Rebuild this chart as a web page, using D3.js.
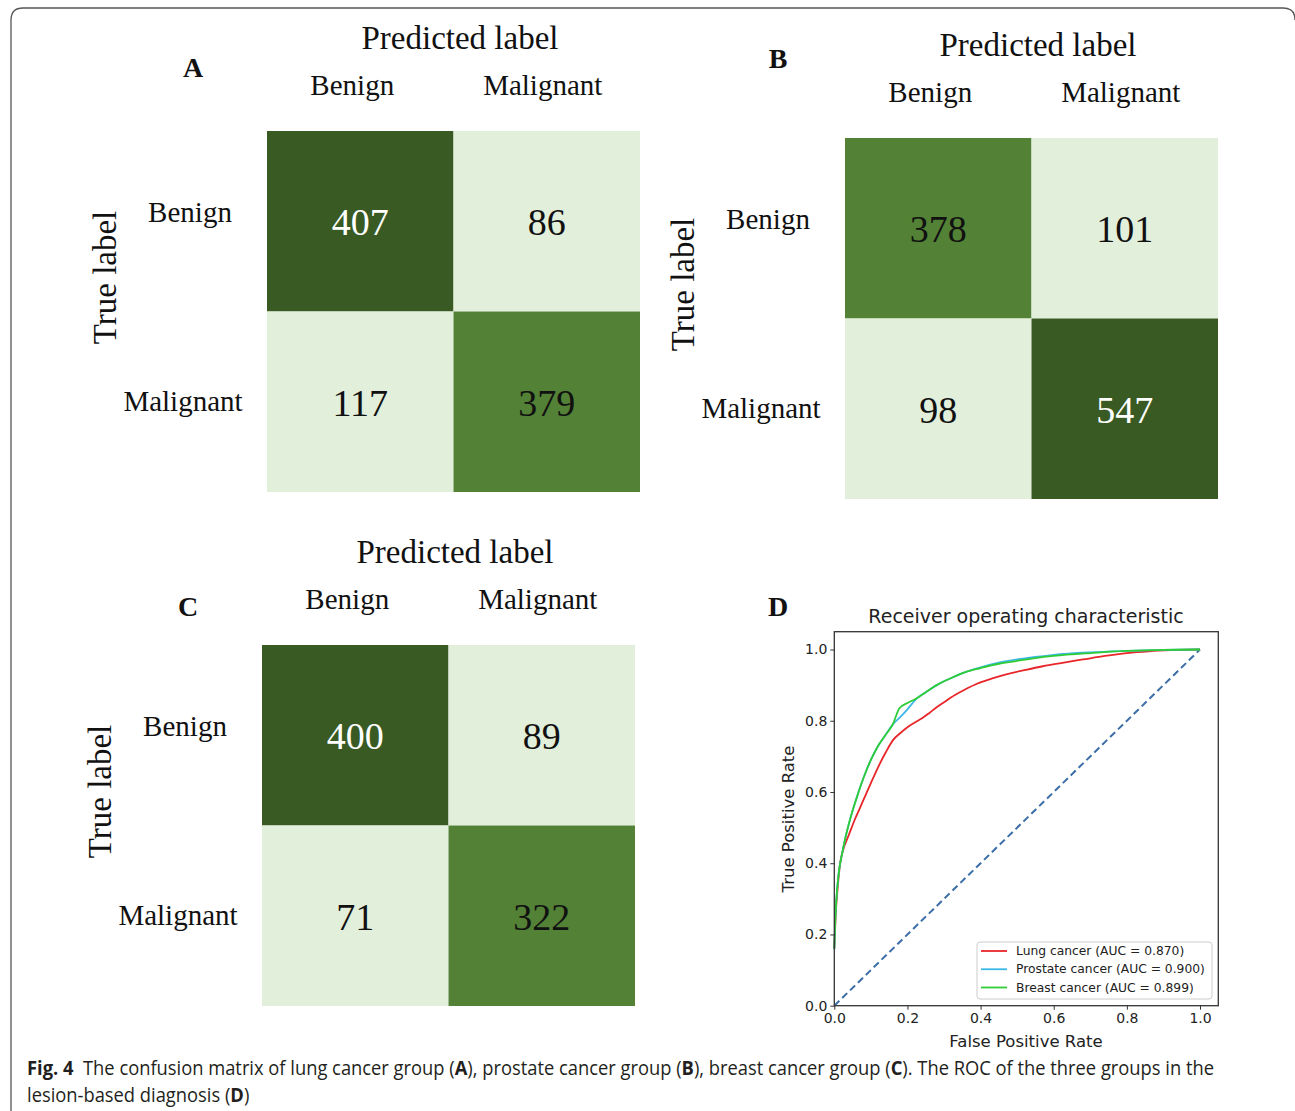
<!DOCTYPE html>
<html>
<head>
<meta charset="utf-8">
<script src="https://cdn.jsdelivr.net/npm/d3@7"></script>
<style>
  body { margin: 0; background: #fff; }
  svg { display: block; }
</style>
</head>
<body>
<svg id="fig" width="1295" height="1111"></svg>
<script>
// class labels and confusion matrices (rows = true, cols = predicted)
var classLabels = ["Benign", "Malignant"];
var lungMatrix = [[407, 86], [117, 379]];
var prostateMatrix = [[378, 101], [98, 547]];
var breastMatrix = [[400, 89], [71, 322]];

// ROC curves
var lungFpr = [0, 0.004, 0.01, 0.016, 0.025, 0.04, 0.055, 0.07, 0.085, 0.1, 0.12, 0.14, 0.16, 0.18, 0.2, 0.22, 0.24, 0.26, 0.28, 0.3, 0.33, 0.36, 0.39, 0.43, 0.47, 0.52, 0.57, 0.62, 0.68, 0.74, 0.8, 0.86, 0.92, 1];
var lungTpr = [0.16, 0.26, 0.34, 0.4, 0.44, 0.48, 0.52, 0.555, 0.59, 0.625, 0.67, 0.71, 0.745, 0.765, 0.782, 0.795, 0.807, 0.822, 0.838, 0.852, 0.872, 0.889, 0.904, 0.918, 0.93, 0.942, 0.953, 0.962, 0.972, 0.982, 0.99, 0.995, 0.998, 1];
var prostateFpr = [0, 0.003, 0.008, 0.013, 0.02, 0.03, 0.045, 0.06, 0.08, 0.1, 0.12, 0.14, 0.16, 0.18, 0.2, 0.223, 0.25, 0.28, 0.32, 0.36, 0.4, 0.45, 0.5, 0.55, 0.6, 0.7, 0.8, 0.9, 1];
var prostateTpr = [0.16, 0.25, 0.33, 0.38, 0.42, 0.47, 0.53, 0.58, 0.64, 0.69, 0.73, 0.76, 0.79, 0.81, 0.832, 0.86, 0.88, 0.9, 0.92, 0.937, 0.95, 0.963, 0.972, 0.979, 0.985, 0.992, 0.996, 0.999, 1];
var breastFpr = [0, 0.003, 0.008, 0.013, 0.02, 0.03, 0.045, 0.06, 0.08, 0.1, 0.12, 0.14, 0.16, 0.178, 0.2, 0.223, 0.25, 0.28, 0.32, 0.36, 0.4, 0.45, 0.5, 0.55, 0.6, 0.7, 0.8, 0.9, 1];
var breastTpr = [0.16, 0.25, 0.33, 0.38, 0.42, 0.47, 0.53, 0.58, 0.64, 0.69, 0.73, 0.76, 0.79, 0.835, 0.85, 0.862, 0.88, 0.9, 0.92, 0.937, 0.948, 0.96, 0.968, 0.976, 0.982, 0.99, 0.996, 0.999, 1];
var rocTicks = [0, 0.2, 0.4, 0.6, 0.8, 1.0];
var legendLabels = ["Lung cancer (AUC = 0.870)", "Prostate cancer (AUC = 0.900)", "Breast cancer (AUC = 0.899)"];

var serif = "'Liberation Serif', 'Times New Roman', serif";
var sans = "'DejaVu Sans', sans-serif";
var svg = d3.select("#fig");

// frame round the figure (open at the bottom)
svg.append("path")
  .attr("d", "M11,1111 V20 Q11,8 23,8 H1283 Q1295,8 1295,20")
  .attr("fill", "none").attr("stroke", "#555").attr("stroke-width", 1.3);

// cell colour by rank inside one matrix: top = dark, second = mid, rest = light
var shades = ["#3a5a24", "#538135", "#e2efda"];

function drawMatrix(matrix, left, top, letter) {
  var w = 373, h = 361;
  var g = svg.append("g");
  var x = d3.scaleBand().domain([0, 1]).range([left, left + w]);
  var y = d3.scaleBand().domain([0, 1]).range([top, top + h]);
  var flat = d3.merge(matrix);
  var order = flat.slice().sort(d3.descending);
  var cells = [];
  matrix.forEach(function(row, i) {
    row.forEach(function(v, j) { cells.push({r: i, c: j, v: v, rank: Math.min(order.indexOf(v), 2)}); });
  });

  g.selectAll("rect").data(cells).enter().append("rect")
    .attr("x", function(d) { return x(d.c); })
    .attr("y", function(d) { return y(d.r); })
    .attr("width", x.bandwidth())
    .attr("height", y.bandwidth())
    .attr("fill", function(d) { return shades[d.rank]; });

  g.selectAll("text.val").data(cells).enter().append("text")
    .attr("class", "val")
    .attr("x", function(d) { return x(d.c) + x.bandwidth() / 2; })
    .attr("y", function(d) { return y(d.r) + y.bandwidth() / 2 + 1; })
    .attr("text-anchor", "middle").attr("dominant-baseline", "central")
    .attr("font-family", serif).attr("font-size", 38)
    .attr("fill", function(d) { return d.rank === 0 ? "#fff" : "#111"; })
    .text(function(d) { return d.v; });

  // column tick labels
  g.selectAll("text.col").data(classLabels).enter().append("text")
    .attr("x", function(d, i) { return x(i) + x.bandwidth() / 2 - (i === 0 ? 8 : 4); })
    .attr("y", top - 46)
    .attr("text-anchor", "middle").attr("dominant-baseline", "central")
    .attr("font-family", serif).attr("font-size", 29).attr("fill", "#111")
    .text(function(d) { return d; });

  // row tick labels
  g.selectAll("text.row").data(classLabels).enter().append("text")
    .attr("x", function(d, i) { return left - (i === 0 ? 77 : 84); })
    .attr("y", function(d, i) { return y(i) + y.bandwidth() / 2 - (i === 0 ? 9 : 1); })
    .attr("text-anchor", "middle").attr("dominant-baseline", "central")
    .attr("font-family", serif).attr("font-size", 29).attr("fill", "#111")
    .text(function(d) { return d; });

  g.append("text")
    .attr("x", left + 193).attr("y", top - 93)
    .attr("text-anchor", "middle").attr("dominant-baseline", "central")
    .attr("font-family", serif).attr("font-size", 33).attr("fill", "#111")
    .text("Predicted label");

  g.append("text")
    .attr("transform", "translate(" + (left - 162) + "," + (top + h / 2 - 34) + ") rotate(-90)")
    .attr("text-anchor", "middle").attr("dominant-baseline", "central")
    .attr("font-family", serif).attr("font-size", 33).attr("fill", "#111")
    .text("True label");

  svg.append("text")
    .attr("x", letter[1]).attr("y", letter[2])
    .attr("text-anchor", "middle").attr("dominant-baseline", "central")
    .attr("font-family", serif).attr("font-size", 28).attr("font-weight", "bold").attr("fill", "#111")
    .text(letter[0]);
}

drawMatrix(lungMatrix, 267, 131, ["A", 193, 67]);
drawMatrix(prostateMatrix, 845, 138, ["B", 778, 58]);
drawMatrix(breastMatrix, 262, 645, ["C", 188, 606]);

// panel D: ROC
svg.append("text")
  .attr("x", 778).attr("y", 606)
  .attr("text-anchor", "middle").attr("dominant-baseline", "central")
  .attr("font-family", serif).attr("font-size", 28).attr("font-weight", "bold").attr("fill", "#111")
  .text("D");

var xs = d3.scaleLinear().domain([0, 1.05]).range([834.3, 1218.3]);
var ys = d3.scaleLinear().domain([0, 1.05]).range([1005.7, 631.7]);
var roc = svg.append("g");

roc.append("line")
  .attr("x1", xs(0)).attr("y1", ys(0)).attr("x2", xs(1)).attr("y2", ys(1))
  .attr("stroke", "#3b6ea6").attr("stroke-width", 2).attr("stroke-dasharray", "7,4");

var line = d3.line()
  .curve(d3.curveMonotoneX)
  .x(function(d) { return xs(d[0]); })
  .y(function(d) { return ys(d[1]); });

var series = [
  {fpr: lungFpr, tpr: lungTpr, color: "#e8262a"},
  {fpr: prostateFpr, tpr: prostateTpr, color: "#3cb8e6"},
  {fpr: breastFpr, tpr: breastTpr, color: "#2fcc36"}
];
series.forEach(function(s) {
  roc.append("path")
    .datum(d3.zip(s.fpr, s.tpr))
    .attr("d", line)
    .attr("fill", "none").attr("stroke", s.color).attr("stroke-width", 1.8);
});

roc.append("rect")
  .attr("x", xs(0)).attr("y", ys(1.05))
  .attr("width", xs(1.05) - xs(0)).attr("height", ys(0) - ys(1.05))
  .attr("fill", "none").attr("stroke", "#333").attr("stroke-width", 1.3);

var xAxis = d3.axisBottom(xs).tickValues(rocTicks).tickFormat(d3.format(".1f")).tickSize(4).tickPadding(3);
var yAxis = d3.axisLeft(ys).tickValues(rocTicks).tickFormat(d3.format(".1f")).tickSize(4).tickPadding(3);
var gx = roc.append("g").attr("transform", "translate(0," + ys(0) + ")").call(xAxis);
var gy = roc.append("g").attr("transform", "translate(" + xs(0) + ",0)").call(yAxis);
[gx, gy].forEach(function(a) {
  a.select(".domain").remove();
  a.selectAll("line").attr("stroke", "#333");
  a.selectAll("text").attr("font-family", sans).attr("font-size", 14).attr("fill", "#222");
});

roc.append("text")
  .attr("x", 1026).attr("y", 616)
  .attr("text-anchor", "middle").attr("dominant-baseline", "central")
  .attr("font-family", sans).attr("font-size", 19).attr("fill", "#222")
  .text("Receiver operating characteristic");
roc.append("text")
  .attr("x", 1026).attr("y", 1041)
  .attr("text-anchor", "middle").attr("dominant-baseline", "central")
  .attr("font-family", sans).attr("font-size", 16.5).attr("fill", "#222")
  .text("False Positive Rate");
roc.append("text")
  .attr("transform", "translate(788,819) rotate(-90)")
  .attr("text-anchor", "middle").attr("dominant-baseline", "central")
  .attr("font-family", sans).attr("font-size", 16.5).attr("fill", "#222")
  .text("True Positive Rate");

// legend
var lg = roc.append("g");
lg.append("rect")
  .attr("x", 977).attr("y", 942).attr("width", 235).attr("height", 57).attr("rx", 3)
  .attr("fill", "#fff").attr("stroke", "#ccc");
var ly = d3.scalePoint().domain(d3.range(3)).range([951, 987.5]);
series.forEach(function(s, i) {
  lg.append("line")
    .attr("x1", 981).attr("x2", 1007).attr("y1", ly(i)).attr("y2", ly(i))
    .attr("stroke", s.color).attr("stroke-width", 1.8);
  lg.append("text")
    .attr("x", 1016).attr("y", ly(i))
    .attr("dominant-baseline", "central")
    .attr("font-family", sans).attr("font-size", 12.3).attr("fill", "#222")
    .text(legendLabels[i]);
});

// caption
var cap = svg.append("g").attr("font-family", "'Open Sans', 'Noto Sans', sans-serif").attr("font-size", 20).attr("fill", "#231f20");
function capLine(yPos, parts) {
  var t = cap.append("text").attr("x", 0).attr("y", yPos);
  parts.forEach(function(p) {
    t.append("tspan").attr("font-weight", p[1] ? "bold" : "normal").text(p[0]);
  });
  return t;
}
var l1 = capLine(1075, [["Fig. 4", 1], ["  The confusion matrix of lung cancer group (", 0], ["A", 1], ["), prostate cancer group (", 0], ["B", 1], ["), breast cancer group (", 0], ["C", 1], ["). The ROC of the three groups in the", 0]]);
capLine(1102, [["lesion-based diagnosis (", 0], ["D", 1], [")", 0]]);
l1.attr("xml:space", "preserve");
var sx = 1188 / l1.node().getComputedTextLength();
cap.attr("transform", "translate(27,0) scale(" + sx + ",1)");
</script>
</body>
</html>
